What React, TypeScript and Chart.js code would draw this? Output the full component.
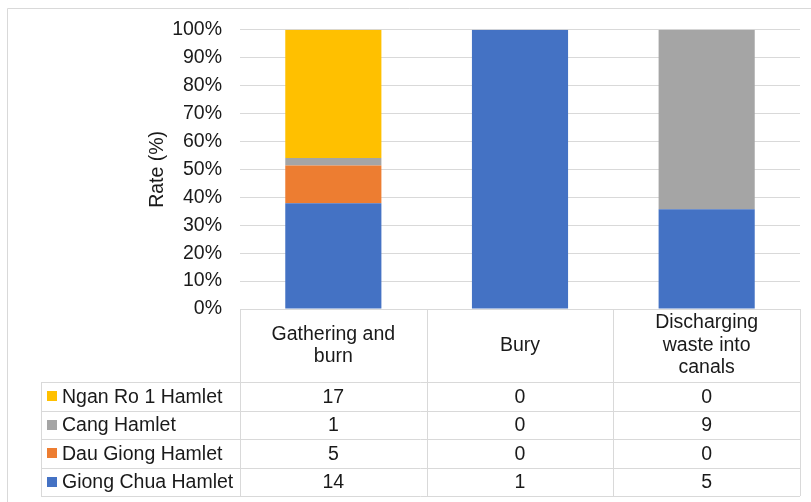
import { useEffect, useRef } from 'react';
import { Chart, registerables } from 'chart.js';

Chart.register(...registerables);

// ---- data ----
const categories: string[][] = [
  ['Gathering and', 'burn'],
  ['Bury'],
  ['Discharging', 'waste into', 'canals'],
];
const seriesNames = ['Giong Chua Hamlet', 'Dau Giong Hamlet', 'Cang Hamlet', 'Ngan Ro 1 Hamlet'];
const giongChua = [14, 1, 5];
const dauGiong = [5, 0, 0];
const cang = [1, 0, 9];
const nganRo = [17, 0, 0];
const seriesColors = ['#4472C4', '#ED7D31', '#A5A5A5', '#FFC000'];
const yTickMax = 100;
const yTickStep = 10;
const yTitle = 'Rate (%)';

const FONT = '"Liberation Sans", Arial, sans-serif';
const FS = 19.5;
const TXT = '#1a1a1a';
const LINE = '#d9d9d9';

const allSeries = [giongChua, dauGiong, cang, nganRo];
const totals = categories.map((_, i) => allSeries.reduce((s, a) => s + a[i], 0));

const tablePlugin = {
  id: 'tablePlugin',
  afterDraw(chart: any) {
    const ctx = chart.ctx as CanvasRenderingContext2D;
    const { left, right, top, bottom } = chart.chartArea;
    const xs = chart.scales.x;
    const n = categories.length;
    const cw = (right - left) / n;
    const headerH = 73;
    const rowH = 28.5;
    const legendLeft = 41;
    const r = (v: number) => Math.round(v) + 0.5;
    const line = (x1: number, y1: number, x2: number, y2: number) => {
      ctx.beginPath();
      ctx.moveTo(x1, y1);
      ctx.lineTo(x2, y2);
      ctx.stroke();
    };
    ctx.save();
    ctx.strokeStyle = LINE;
    ctx.lineWidth = 1;
    // outer frame
    line(r(7), r(8), chart.width, r(8));
    line(r(7), r(8), r(7), chart.height);

    const tableBottom = bottom + headerH + rowH * seriesNames.length;
    // header top line
    line(left, r(bottom), right, r(bottom));
    // vertical category lines
    for (let i = 0; i <= n; i++) {
      const x = r(left + i * cw);
      line(x, bottom, x, tableBottom);
    }
    // row lines
    for (let j = 0; j <= seriesNames.length; j++) {
      const y = r(bottom + headerH + j * rowH);
      line(legendLeft, y, right, y);
    }
    line(r(legendLeft), bottom + headerH, r(legendLeft), tableBottom);

    ctx.fillStyle = TXT;
    ctx.font = `${FS}px ${FONT}`;
    ctx.textAlign = 'center';
    ctx.textBaseline = 'middle';
    // header labels
    const lh = 22.5;
    categories.forEach((lines, i) => {
      const cx = xs.getPixelForValue(i);
      const cy = bottom + headerH / 2;
      const start = cy - ((lines.length - 1) * lh) / 2;
      lines.forEach((t, k) => ctx.fillText(t, cx, start + k * lh));
    });
    // rows (reverse order: top series first)
    const order = [3, 2, 1, 0];
    order.forEach((si, j) => {
      const cy = bottom + headerH + j * rowH + rowH / 2;
      ctx.fillStyle = seriesColors[si];
      ctx.fillRect(47, Math.round(cy - 5), 10, 10);
      ctx.fillStyle = TXT;
      ctx.textAlign = 'left';
      ctx.fillText(seriesNames[si], 62, cy + 1);
      ctx.textAlign = 'center';
      allSeries[si].forEach((v, i) => {
        ctx.fillText(String(v), xs.getPixelForValue(i), cy + 1);
      });
    });

    // y title
    ctx.save();
    ctx.translate(158, (top + bottom) / 2);
    ctx.rotate(-Math.PI / 2);
    ctx.textAlign = 'center';
    ctx.textBaseline = 'middle';
    ctx.fillText(yTitle, 0, 0);
    ctx.restore();
    ctx.restore();
  },
};

export default function App() {
  const ref = useRef<HTMLCanvasElement>(null);
  useEffect(() => {
    if (!ref.current) return;
    const chart = new Chart(ref.current, {
      type: 'bar',
      data: {
        labels: categories.map((c) => c.join(' ')),
        datasets: allSeries.map((arr, si) => ({
          label: seriesNames[si],
          data: arr.map((v, i) => (totals[i] ? (v / totals[i]) * 100 : 0)),
          backgroundColor: seriesColors[si],
          borderWidth: 0,
          categoryPercentage: 1,
          barPercentage: 0.515,
        })),
      },
      options: {
        responsive: false,
        animation: false,
        layout: { padding: { left: 0, top: 29, right: 11, bottom: 193 } },
        plugins: { legend: { display: false }, tooltip: { enabled: false } },
        scales: {
          x: { stacked: true, display: false },
          y: {
            stacked: true,
            min: 0,
            max: yTickMax,
            border: { display: false },
            grid: { color: LINE, drawTicks: false },
            afterFit: (scale: any) => {
              scale.width = 240;
            },
            ticks: {
              stepSize: yTickStep,
              padding: 18,
              color: TXT,
              font: { family: FONT, size: FS },
              callback: (v: any) => `${v}%`,
            },
          },
        },
      },
      plugins: [tablePlugin],
    });
    return () => chart.destroy();
  }, []);
  return (
    <div style={{ position: 'fixed', left: 0, top: 0, width: 811, height: 502, background: '#fff' }}>
      <canvas ref={ref} width={811} height={502} />
    </div>
  );
}
